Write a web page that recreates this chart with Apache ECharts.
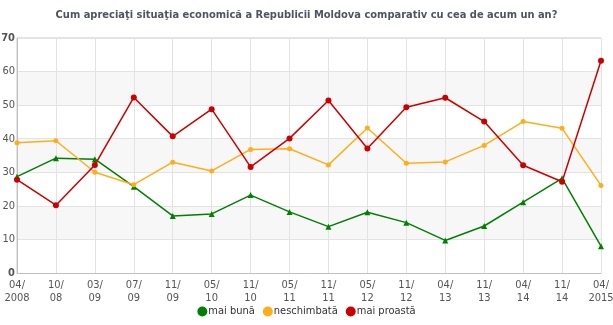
<!DOCTYPE html>
<html>
<head>
<meta charset="utf-8">
<style>
  html, body { margin: 0; padding: 0; background: #fff; }
  #chart { width: 613px; height: 325px; }
</style>
<script src="https://cdn.jsdelivr.net/npm/echarts@6/dist/echarts.min.js"></script>
</head>
<body>
<div id="chart"></div>
<script>
// Survey waves (month / year)
const categories = ['04/\n2008', '10/\n08', '03/\n09', '07/\n09', '11/\n09', '05/\n10', '11/\n10', '05/\n11',
  '11/\n11', '05/\n12', '11/\n12', '04/\n13', '11/\n13', '04/\n14', '11/\n14', '04/\n2015'];

// Shares of respondents, %
const better = [28.7, 34.2, 33.9, 25.7, 17.0, 17.6, 23.2, 18.2, 13.8, 18.1, 15.0, 9.7, 14.0, 21.1, 28.2, 8.0];
const unchanged = [38.8, 39.4, 30.0, 26.3, 33.0, 30.4, 36.8, 37.0, 32.2, 43.2, 32.7, 33.1, 38.0, 45.1, 43.1, 26.1];
const worse = [27.8, 20.2, 32.2, 52.3, 40.7, 48.8, 31.6, 40.1, 51.4, 37.1, 49.4, 52.2, 45.1, 32.1, 27.2, 63.2];

const seriesNames = ['mai bună', 'neschimbată', 'mai proastă'];
const seriesColors = ['#008000', '#ffae1a', '#cc0000'];

const chart = echarts.init(document.getElementById('chart'), null, { renderer: 'canvas' });

const font = '"DejaVu Sans Condensed", "DejaVu Sans", sans-serif';

function lineSeries(name, data, color, symbol, size) {
  return {
    name: name,
    type: 'line',
    data: data,
    symbol: symbol,
    symbolSize: size,
    showAllSymbol: true,
    itemStyle: { color: color },
    lineStyle: { color: color, width: 1.5 },
    emphasis: { disabled: true },
    animation: false
  };
}

chart.setOption({
  animation: false,
  title: {
    text: 'Cum apreciaţi situaţia economică a Republicii Moldova comparativ cu cea de acum un an?',
    left: 'center',
    top: 5,
    textStyle: { fontFamily: font, fontSize: 11, fontWeight: 'bold', color: '#4f5560' }
  },
  legend: {
    bottom: 3,
    left: 'center',
    itemWidth: 10,
    itemHeight: 10,
    itemGap: 8,
    icon: 'circle',
    textStyle: { fontFamily: font, fontSize: 11, color: '#333333', padding: [0, 0, 0, -4] },
    data: seriesNames
  },
  grid: {
    left: 17, right: 12, top: 38, bottom: 52,
    outerBoundsMode: 'none', containLabel: false,
    show: true, borderColor: '#c8c8c8', borderWidth: 1, backgroundColor: 'transparent'
  },
  xAxis: {
    type: 'category',
    data: categories,
    boundaryGap: false,
    axisLine: { lineStyle: { color: '#c0c0c0' } },
    axisTick: { show: false },
    axisLabel: { fontFamily: font, fontSize: 11, color: '#555555', lineHeight: 13, margin: 6, interval: 0 },
    splitLine: { show: true, lineStyle: { color: '#e3e3e3' } }
  },
  yAxis: {
    type: 'value',
    min: 0,
    max: 70,
    interval: 10,
    axisLine: { show: true, lineStyle: { color: '#c0c0c0' } },
    axisTick: { show: false },
    axisLabel: {
      fontFamily: font, fontSize: 11, color: '#555555', margin: 2,
      formatter: function (v) { return (v === 0 || v === 70) ? '{b|' + v + '}' : String(v); },
      rich: { b: { fontFamily: font, fontSize: 11, fontWeight: 'bold', color: '#555555' } }
    },
    splitLine: { show: true, lineStyle: { color: '#e3e3e3' } },
    splitArea: { show: true, areaStyle: { color: ['#ffffff', '#f7f7f7'] } }
  },
  series: [
    lineSeries(seriesNames[0], better, seriesColors[0], 'triangle', 6),
    lineSeries(seriesNames[1], unchanged, seriesColors[1], 'circle', 5),
    lineSeries(seriesNames[2], worse, seriesColors[2], 'circle', 6)
  ]
});
</script>
</body>
</html>
